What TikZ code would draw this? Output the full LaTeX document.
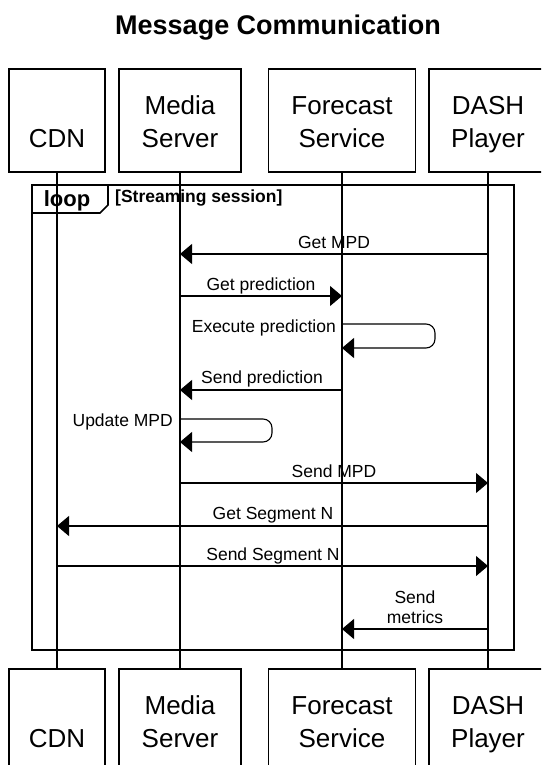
\documentclass[tikz,border=0pt]{standalone}
\usepackage{fontspec}
\setmainfont{Liberation Sans}
\usetikzlibrary{arrows.meta}
\tikzset{
  actor/.style={draw, line width=1.2pt, rectangle, inner sep=0pt, fill=white},
  boxtxt/.style={anchor=base, inner sep=0pt, font=\fontsize{26}{32}\selectfont},
  lifeline/.style={line width=1.1pt},
  msg/.style={line width=1.1pt, -{Triangle[length=12pt,width=20pt]}},
  msgtxt/.style={anchor=base, inner sep=0pt, font=\fontsize{17.5}{20}\selectfont},
  frame/.style={line width=2.2pt},
}
\begin{document}
\begin{tikzpicture}[x=1pt,y=-1pt]
\useasboundingbox (0,0) rectangle (541,765);
\clip (0,0) rectangle (541,765);
\fill[white] (0,0) rectangle (541,765);

% title
\node[anchor=base, inner sep=0pt, font=\bfseries\fontsize{27}{32}\selectfont] (title) at (278,34.5) {Message Communication};

% top actors
\node[actor, minimum width=96, minimum height=103] (cdnT) at (57,120.5) {};
\node[actor, minimum width=122, minimum height=103] (medT) at (180,120.5) {};
\node[actor, minimum width=147, minimum height=103] (forT) at (342,120.5) {};
\node[actor, minimum width=118, minimum height=103] (dasT) at (488,120.5) {};
% bottom actors
\node[actor, minimum width=96, minimum height=103] (cdnB) at (57,720.5) {};
\node[actor, minimum width=122, minimum height=103] (medB) at (180,720.5) {};
\node[actor, minimum width=147, minimum height=103] (forB) at (342,720.5) {};
\node[actor, minimum width=118, minimum height=103] (dasB) at (488,720.5) {};

% actor labels
\node[boxtxt] (cdnTl) at (57,147) {CDN};
\node[boxtxt] (medTl1) at (180,114) {Media};
\node[boxtxt] (medTl2) at (180,147) {Server};
\node[boxtxt] (forTl1) at (342,114) {Forecast};
\node[boxtxt] (forTl2) at (342,147) {Service};
\node[boxtxt] (dasTl1) at (488,114) {DASH};
\node[boxtxt] (dasTl2) at (488,147) {Player};
\node[boxtxt] (cdnBl) at (57,747) {CDN};
\node[boxtxt] (medBl1) at (180,714) {Media};
\node[boxtxt] (medBl2) at (180,747) {Server};
\node[boxtxt] (forBl1) at (342,714) {Forecast};
\node[boxtxt] (forBl2) at (342,747) {Service};
\node[boxtxt] (dasBl1) at (488,714) {DASH};
\node[boxtxt] (dasBl2) at (488,747) {Player};

% lifelines
\draw[lifeline] (cdnT.south) -- (cdnB.north);
\draw[lifeline] (medT.south) -- (medB.north);
\draw[lifeline] (forT.south) -- (forB.north);
\draw[lifeline] (dasT.south) -- (dasB.north);

% loop frame
\node[draw, frame, inner sep=0pt, minimum width=482, minimum height=465, anchor=north west] (loop) at (31,184) {};
\draw[line width=1.6pt] (loop.north west) ++(0,29) -- ++(69,0) -- ++(8,-8) coordinate (tabc) -- (tabc |- loop.north);
\node[anchor=base, inner sep=0pt, font=\bfseries\fontsize{22}{26}\selectfont] (looptxt) at (67,206) {loop};
\node[anchor=base west, inner sep=0pt, font=\bfseries\fontsize{17.5}{20}\selectfont] (cond) at (115,202) {[Streaming session]};

% message coordinates
\coordinate (m1a) at (488,254); \coordinate (m1b) at (180,254);
\coordinate (m2a) at (180,296); \coordinate (m2b) at (342,296);
\coordinate (m3a) at (342,324); \coordinate (m3b) at (342,348);
\coordinate (m4a) at (342,390); \coordinate (m4b) at (180,390);
\coordinate (m5a) at (180,419); \coordinate (m5b) at (180,442);
\coordinate (m6a) at (180,483); \coordinate (m6b) at (488,483);
\coordinate (m7a) at (488,526); \coordinate (m7b) at (57,526);
\coordinate (m8a) at (57,566);  \coordinate (m8b) at (488,566);
\coordinate (m9a) at (488,629); \coordinate (m9b) at (342,629);

% messages
\draw[msg] (m1a) -- (m1b);
\node[msgtxt] (l1) at (334,248) {Get MPD};
\draw[msg] (m2a) -- (m2b);
\node[msgtxt] (l2) at (261,290) {Get prediction};
\draw[msg, rounded corners=9pt] (m3a) -- ++(93,0) -- ++(0,24) -- (m3b);
\node[msgtxt, anchor=base east] (l3) at (336,332) {Execute prediction};
\draw[msg] (m4a) -- (m4b);
\node[msgtxt] (l4) at (262,383) {Send prediction};
\draw[msg, rounded corners=9pt] (m5a) -- ++(92,0) -- ++(0,23) -- (m5b);
\node[msgtxt, anchor=base east] (l5) at (173,426) {Update MPD};
\draw[msg] (m6a) -- (m6b);
\node[msgtxt] (l6) at (334,477) {Send MPD};
\draw[msg] (m7a) -- (m7b);
\node[msgtxt] (l7) at (273,519) {Get Segment N};
\draw[msg] (m8a) -- (m8b);
\node[msgtxt] (l8) at (273,560) {Send Segment N};
\draw[msg] (m9a) -- (m9b);
\node[msgtxt] (l9a) at (415,603) {Send};
\node[msgtxt] (l9b) at (415,623) {metrics};
\end{tikzpicture}
\end{document}
